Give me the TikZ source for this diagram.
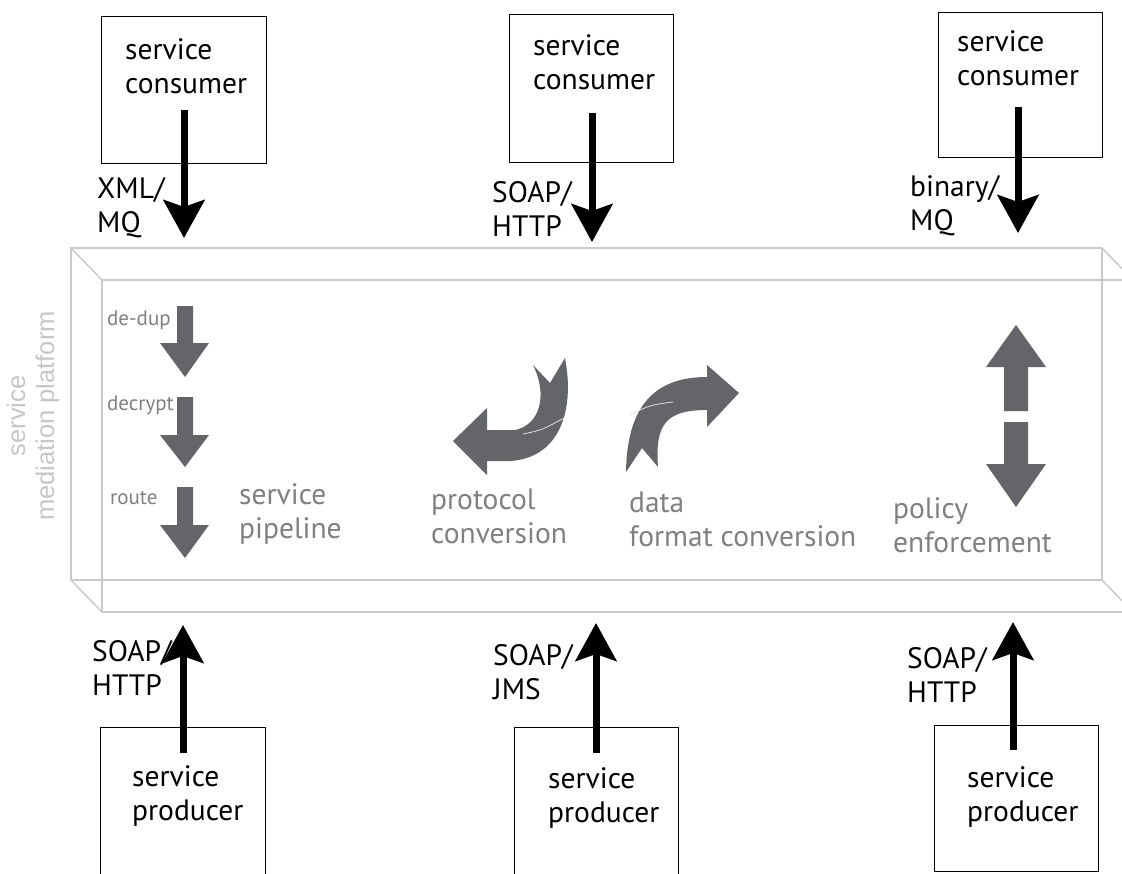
\documentclass[tikz,border=0pt]{standalone}
\usepackage{fontspec}
\setmainfont{PT Sans}
\newfontfamily\sidefont{Liberation Sans}
\usetikzlibrary{arrows.meta}

\definecolor{platline}{RGB}{200,202,205}
\definecolor{icongray}{RGB}{100,101,105}
\definecolor{captgray}{RGB}{128,128,128}
\definecolor{sidegray}{RGB}{198,198,198}

\tikzset{
	svcbox/.style={draw, line width=1.2pt, anchor=north west, inner sep=0pt,
		minimum width=165pt, minimum height=147pt},
	boxtext/.style={anchor=west, align=left, inner sep=0pt,
		font=\fontsize{29.5}{34}\selectfont},
	wiretext/.style={boxtext},
	capt/.style={boxtext, text=captgray},
	steplabel/.style={anchor=west, inner sep=0pt, text=captgray,
		font=\fontsize{21}{24}\selectfont},
	feed/.style={line width=7pt, -{Stealth[length=38pt, width=41pt, inset=7pt]}},
	platform/.style={draw=platline, line width=1.5pt},
	icon/.style={fill=icongray},
}

\begin{document}
\begin{tikzpicture}[x=1pt, y=-1pt]
	\useasboundingbox (0,0) rectangle (1122,873);

	% platform box
	\draw[platform] (71,248) rectangle (1102,580);
	\draw[platform] (102,280) rectangle (1133,612);
	\draw[platform] (71,248) -- (102,280) (1102,248) -- (1133,280);
	\draw[platform] (71,580) -- (102,612) (1102,580) -- (1133,612);
	\node[rotate=90, align=center, inner sep=0pt, text=sidegray,
		font=\sidefont\fontsize{25.5}{29}\selectfont] (side) at (33,416) {service\\mediation platform};

	% consumers
	\node[svcbox] (cons1) at (101,16) {};
	\node[svcbox, minimum width=164pt, minimum height=148pt] (cons2) at (509,14) {};
	\node[svcbox, minimum width=164pt, minimum height=145pt] (cons3) at (938,12) {};
	\node[boxtext] (cons1 txt) at (125,66) {service\\consumer};
	\node[boxtext] (cons2 txt) at (533,62) {service\\consumer};
	\node[boxtext] (cons3 txt) at (957,58) {service\\consumer};

	% producers
	\node[svcbox, minimum height=153pt] (prod1) at (100,727) {};
	\node[svcbox, minimum width=164pt, minimum height=153pt] (prod2) at (514,727) {};
	\node[svcbox, minimum width=164pt, minimum height=146pt] (prod3) at (934,725) {};
	\node[boxtext] (prod1 txt) at (132,796) {service\\producer};
	\node[boxtext] (prod2 txt) at (548,798) {service\\producer};
	\node[boxtext] (prod3 txt) at (967,797) {service\\producer};

	% transports
	\node[wiretext] (xmlmq) at (97,208) {XML/\\MQ};
	\node[wiretext] (soaphttp1) at (492,209) {SOAP/\\HTTP};
	\node[wiretext] (binmq) at (910,206) {binary/\\MQ};
	\node[wiretext] (soaphttp2) at (92,668) {SOAP/\\HTTP};
	\node[wiretext] (soapjms) at (493,672) {SOAP/\\JMS};
	\node[wiretext] (soaphttp3) at (907,675) {SOAP/\\HTTP};

	% pipeline
	\node[steplabel] (dedup) at (107,320) {de-dup};
	\node[steplabel] (decrypt) at (107,405) {decrypt};
	\node[steplabel] (route) at (110,498) {route};
	\fill[icon] (177,306) -- (193,306) -- (193,343) -- (209,343) -- (185,377) -- (160,343) -- (177,343) -- cycle;
	\fill[icon] (177,397) -- (193,397) -- (193,435) -- (209,435) -- (185,467) -- (160,435) -- (177,435) -- cycle;
	\fill[icon] (177,487) -- (193,487) -- (193,525) -- (209,525) -- (185,558) -- (160,525) -- (177,525) -- cycle;
	\node[capt] (pipe) at (239,514) {service\\pipeline};

	% protocol conversion
	\fill[icon] (453,441) -- (487,408) -- (487,430) -- (515,430)
		.. controls (540,425) and (548,395) .. (533,365) -- (550,383) -- (565,358)
		.. controls (575,410) and (560,458) .. (510,461) -- (487,461) -- (487,475) -- cycle;
	\draw[white!80!icongray, line width=0.8pt] (523,434) .. controls (542,430) .. (564,418);
	\node[capt] (proto) at (431,516) {protocol\\conversion};

	% data format conversion
	\fill[icon] (739,393) -- (707,365) -- (707,377)
		.. controls (660,377) and (627,400) .. (626,472) -- (642,448) -- (658,467)
		.. controls (655,425) and (665,410) .. (707,410) -- (707,427) -- cycle;
	\draw[white!80!icongray, line width=0.8pt] (630,415) .. controls (650,405) .. (673,402);
	\node[capt] (format) at (629,519) {data\\format conversion};

	% policy enforcement
	\fill[icon] (1004,411) -- (1004,367) -- (986,367) -- (1016,325) -- (1046,367) -- (1028,367) -- (1028,411) -- cycle;
	\fill[icon] (1004,422) -- (1028,422) -- (1028,464) -- (1046,464) -- (1016,507) -- (986,464) -- (1004,464) -- cycle;
	\node[capt] (policy) at (893,525) {policy\\enforcement};

	% message flows
	\coordinate (c1) at (184,110); \coordinate (in1) at (184,238);
	\coordinate (c2) at (592,113); \coordinate (in2) at (592,242);
	\coordinate (c3) at (1018,107); \coordinate (in3) at (1018,233);
	\coordinate (p1) at (183,753); \coordinate (out1) at (183,625);
	\coordinate (p2) at (596,753); \coordinate (out2) at (596,623);
	\coordinate (p3) at (1013,750); \coordinate (out3) at (1013,622);
	\draw[feed] (c1) -- (in1);
	\draw[feed] (c2) -- (in2);
	\draw[feed] (c3) -- (in3);
	\draw[feed] (p1) -- (out1);
	\draw[feed] (p2) -- (out2);
	\draw[feed] (p3) -- (out3);
\end{tikzpicture}
\end{document}
